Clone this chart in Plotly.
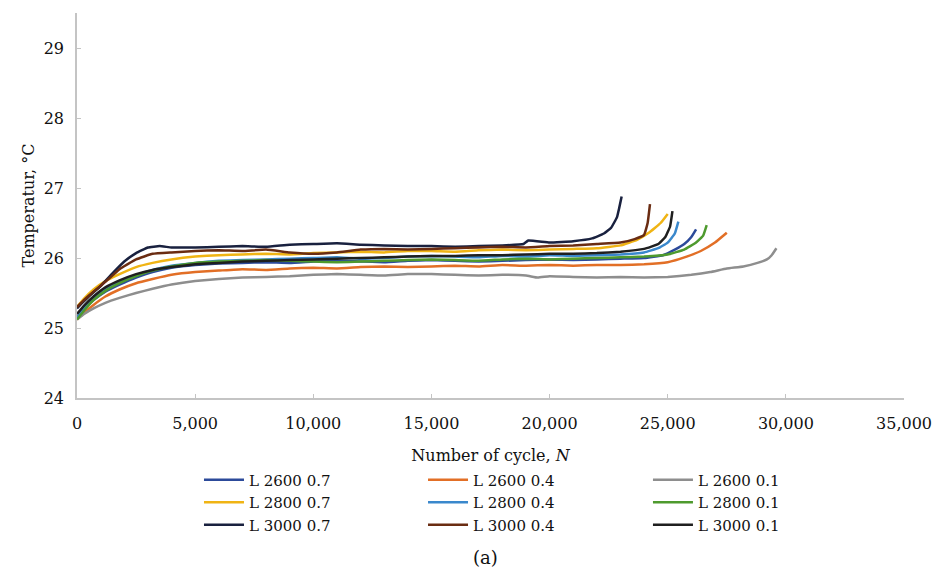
import plotly.graph_objects as go

names = ["L 2600 0.7", "L 2600 0.4", "L 2600 0.1",
         "L 2800 0.7", "L 2800 0.4", "L 2800 0.1",
         "L 3000 0.7", "L 3000 0.4", "L 3000 0.1"]
colors = ["#2c4a9a", "#e26f26", "#8e8e8e",
          "#f0b414", "#3a88cc", "#4e9a2e",
          "#19213f", "#6a2c12", "#1f1f1f"]

x_2600_07 = [0,300,700,1200,1800,2500,3200,4000,5000,6000,7000,8000,9000,10000,11000,12000,13000,14000,15000,16000,17000,18000,19000,20000,21000,22000,23000,24000,24800,25300,25700,26000,26200]
y_2600_07 = [25.15,25.28,25.4,25.52,25.62,25.72,25.8,25.86,25.9,25.92,25.93,25.94,25.93,25.95,25.96,25.95,25.94,25.96,25.97,25.96,25.95,25.96,25.97,25.98,25.97,25.98,25.99,26.0,26.04,26.12,26.2,26.3,26.41]

x_2600_04 = [0,300,700,1200,1800,2500,3200,4000,5000,6000,7000,8000,9000,10000,11000,12000,13000,14000,15000,16000,17000,18000,19000,20000,21000,22000,23000,24000,25000,25800,26400,27000,27500]
y_2600_04 = [25.12,25.22,25.33,25.45,25.55,25.64,25.7,25.76,25.8,25.82,25.84,25.83,25.85,25.86,25.85,25.87,25.88,25.87,25.88,25.89,25.88,25.9,25.89,25.9,25.89,25.9,25.9,25.91,25.94,26.02,26.1,26.22,26.36]

x_2600_01 = [0,300,700,1200,1800,2500,3200,4000,5000,6000,7000,8000,9000,10000,11000,12000,13000,14000,15000,16000,17000,18000,19000,19500,20000,21000,22000,23000,24000,25000,26000,26800,27500,28200,28800,29200,29400,29600]
y_2600_01 = [25.12,25.2,25.28,25.36,25.43,25.5,25.56,25.62,25.67,25.7,25.72,25.73,25.74,25.76,25.77,25.76,25.75,25.77,25.77,25.76,25.75,25.76,25.75,25.72,25.74,25.73,25.72,25.73,25.72,25.73,25.76,25.8,25.85,25.88,25.93,25.98,26.04,26.14]

x_2800_07 = [0,300,700,1200,1800,2500,3200,4000,5000,6000,7000,8000,9000,10000,11000,12000,13000,14000,15000,16000,17000,18000,19000,20000,21000,22000,23000,23700,24200,24700,25000]
y_2800_07 = [25.3,25.42,25.55,25.67,25.77,25.87,25.93,25.98,26.02,26.04,26.05,26.06,26.05,26.07,26.08,26.09,26.08,26.1,26.1,26.09,26.11,26.12,26.11,26.12,26.13,26.14,26.18,26.26,26.36,26.5,26.63]

x_2800_04 = [0,300,700,1200,1800,2500,3200,4000,5000,6000,7000,8000,9000,10000,11000,12000,13000,14000,15000,16000,17000,18000,19000,20000,21000,22000,23000,24000,24600,25000,25300,25450]
y_2800_04 = [25.15,25.28,25.42,25.55,25.65,25.75,25.83,25.89,25.93,25.96,25.97,25.98,25.99,26.0,26.01,25.99,26.0,26.02,26.03,26.02,26.01,26.03,26.02,26.04,26.03,26.04,26.05,26.08,26.14,26.22,26.35,26.52]

x_2800_01 = [0,300,700,1200,1800,2500,3200,4000,5000,6000,7000,8000,9000,10000,11000,12000,13000,14000,15000,16000,17000,18000,19000,20000,21000,22000,23000,24000,25000,25700,26200,26500,26650]
y_2800_01 = [25.12,25.25,25.4,25.53,25.64,25.74,25.82,25.88,25.93,25.95,25.96,25.97,25.96,25.95,25.94,25.95,25.96,25.97,25.98,25.97,25.96,25.98,25.99,25.98,25.99,26.0,26.01,26.02,26.05,26.12,26.22,26.32,26.47]

x_3000_07 = [0,200,500,1000,1500,2000,2500,3000,3500,4000,5000,6000,7000,8000,9000,10000,11000,12000,13000,14000,15000,16000,17000,18000,18900,19100,20000,21000,21800,22300,22600,22850,22950,23050]
y_3000_07 = [25.28,25.35,25.45,25.6,25.78,25.95,26.07,26.15,26.17,26.15,26.15,26.16,26.17,26.16,26.19,26.2,26.21,26.19,26.18,26.17,26.17,26.16,26.17,26.18,26.2,26.25,26.22,26.24,26.28,26.35,26.43,26.58,26.72,26.88]

x_3000_04 = [0,300,700,1200,1800,2500,3200,4000,5000,6000,7000,8000,9000,10000,11000,12000,13000,14000,15000,16000,17000,18000,19000,20000,21000,22000,23000,23600,24000,24150,24250]
y_3000_04 = [25.3,25.4,25.52,25.66,25.84,25.98,26.06,26.08,26.1,26.11,26.1,26.12,26.08,26.06,26.08,26.12,26.13,26.12,26.13,26.14,26.15,26.16,26.15,26.17,26.18,26.2,26.22,26.27,26.33,26.5,26.77]

x_3000_01 = [0,300,700,1200,1800,2500,3200,4000,5000,6000,7000,8000,9000,10000,11000,12000,13000,14000,15000,16000,17000,18000,19000,20000,21000,22000,23000,24000,24600,24900,25100,25200]
y_3000_01 = [25.2,25.32,25.45,25.58,25.68,25.77,25.83,25.87,25.91,25.93,25.95,25.96,25.97,25.98,25.99,26.0,26.01,26.02,26.03,26.03,26.04,26.04,26.05,26.06,26.06,26.07,26.09,26.13,26.2,26.3,26.45,26.67]

xs = [x_2600_07, x_2600_04, x_2600_01, x_2800_07, x_2800_04, x_2800_01, x_3000_07, x_3000_04, x_3000_01]
ys = [y_2600_07, y_2600_04, y_2600_01, y_2800_07, y_2800_04, y_2800_01, y_3000_07, y_3000_04, y_3000_01]

x_ticks = [0, 5000, 10000, 15000, 20000, 25000, 30000, 35000]
y_ticks = [24, 25, 26, 27, 28, 29]

FONT = "DejaVu Serif"
TXT = "#111111"
col_ids = ["legend", "legend2", "legend3"]

fig = go.Figure()
for i, (n, c, x, y) in enumerate(zip(names, colors, xs, ys)):
    fig.add_trace(go.Scatter(x=x, y=y, name=n, mode="lines",
                             legend=col_ids[i % 3],
                             line=dict(color=c, width=2.5, shape="spline", smoothing=0.3)))

leg_common = dict(orientation="v", y=-0.17, yanchor="top", xanchor="left",
                  font=dict(family=FONT, size=15, color=TXT), itemwidth=40,
                  bgcolor="rgba(0,0,0,0)", tracegroupgap=0)

fig.update_layout(
    width=935, height=572,
    margin=dict(l=77, r=31, t=13, b=174, autoexpand=False),
    paper_bgcolor="white", plot_bgcolor="white",
    font=dict(family=FONT, size=16, color=TXT),
    xaxis=dict(range=[0, 35000], tickvals=x_ticks, tickformat=",d",
               showline=True, linecolor="#c4c4c4", linewidth=1.5,
               ticks="inside", ticklen=4, tickcolor="#c4c4c4",
               ticklabelstandoff=10,
               showgrid=False, zeroline=False,
               tickfont=dict(family=FONT, size=16, color=TXT),
               title=dict(text="Number of cycle, <i>N</i>", standoff=18,
                          font=dict(family=FONT, size=16, color=TXT))),
    yaxis=dict(range=[24, 29.5], tickvals=y_ticks,
               ticktext=[f"{v}\u2002" for v in y_ticks],
               showline=True, linecolor="#c4c4c4", linewidth=1.5,
               ticks="inside", ticklen=4, tickcolor="#c4c4c4",
               showgrid=False, zeroline=False,
               tickfont=dict(family=FONT, size=16, color=TXT),
               title=dict(text="Temperatur, °C", standoff=5,
                          font=dict(family=FONT, size=16, color=TXT))),
    legend=dict(x=0.1475, **leg_common),
    legend2=dict(x=0.4184, **leg_common),
    legend3=dict(x=0.6904, **leg_common),
    showlegend=True,
)

fig.add_annotation(text="(a)", xref="paper", yref="paper", x=0.494, y=-0.415,
                   xanchor="center", yanchor="middle", showarrow=False,
                   font=dict(family=FONT, size=18, color=TXT))

fig.write_html("out.html")
